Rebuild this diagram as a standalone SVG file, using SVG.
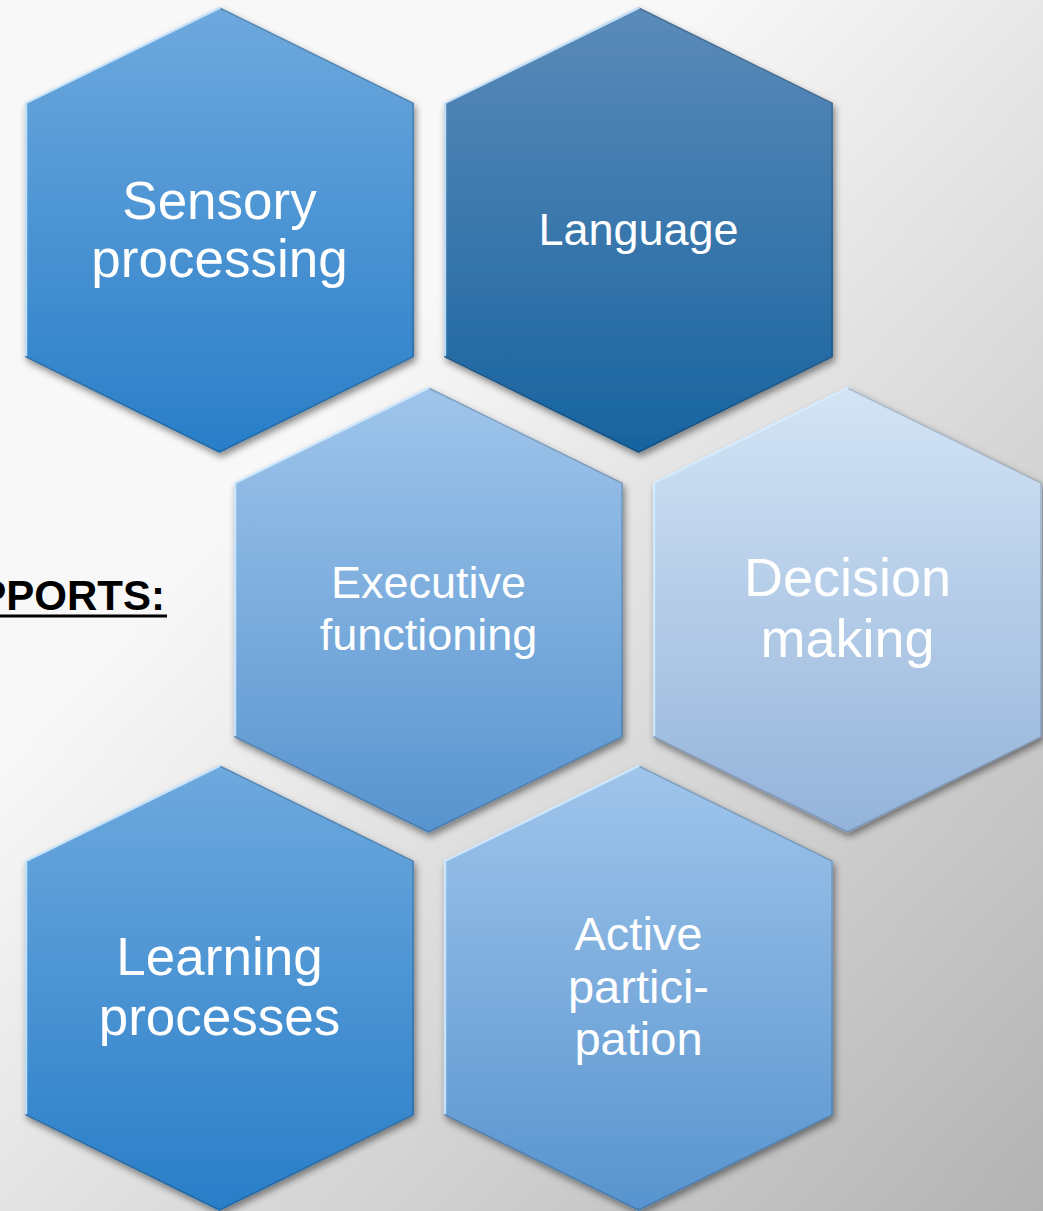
<svg xmlns="http://www.w3.org/2000/svg" xmlns:xlink="http://www.w3.org/1999/xlink" width="1043" height="1211" viewBox="0 0 1043 1211">
  <style>
    .lbl { font-family: "Liberation Sans", "DejaVu Sans", Arial, sans-serif; fill: #ffffff; text-anchor: middle; }
    .hl { fill: none; stroke: #d6ecff; stroke-width: 2.5; stroke-opacity: 0.85; stroke-linecap: round; }
    .dk { fill: none; stroke: #000000; stroke-width: 1.5; stroke-opacity: 0.18; }
    .head { font-family: "Liberation Sans", "DejaVu Sans", Arial, sans-serif; font-weight: bold; fill: #000000; font-size: 42px; text-anchor: end; }
  </style>
  <defs>
    <linearGradient id="bg" x1="0.35" y1="0.3" x2="1" y2="1">
      <stop offset="0" stop-color="#f8f8f8"/>
      <stop offset="1" stop-color="#b3b3b3"/>
    </linearGradient>
    <linearGradient id="gMid" x1="0" y1="0" x2="0" y2="1">
      <stop offset="0" stop-color="#6ea9de"/>
      <stop offset="1" stop-color="#287ec8"/>
    </linearGradient>
    <linearGradient id="gDark" x1="0" y1="0" x2="0" y2="1">
      <stop offset="0" stop-color="#5b8bb9"/>
      <stop offset="1" stop-color="#17639f"/>
    </linearGradient>
    <linearGradient id="gLight" x1="0" y1="0" x2="0" y2="1">
      <stop offset="0" stop-color="#a0c5eb"/>
      <stop offset="1" stop-color="#5794cf"/>
    </linearGradient>
    <linearGradient id="gPale" x1="0" y1="0" x2="0" y2="1">
      <stop offset="0" stop-color="#d4e4f5"/>
      <stop offset="1" stop-color="#93b3da"/>
    </linearGradient>
    <filter id="sh" x="-10%" y="-10%" width="125%" height="125%">
      <feDropShadow dx="2" dy="4" stdDeviation="3.5" flood-color="#000000" flood-opacity="0.45"/>
    </filter>
    <polygon id="hex" points="0,96 194.5,0 389,96 389,350 194.5,446 0,350"/>
    <polyline id="hexHl" points="1,348 1,96 194.5,1"/>
    <polyline id="hexDk" points="194.5,1 388,96 388,350 194.5,445 1,350"/>
  </defs>

  <rect x="0" y="0" width="1043" height="1211" fill="url(#bg)"/>

  <g id="heading">
    <text class="head" x="165" y="610">PPORTS:</text>
    <line x1="0" y1="616" x2="167" y2="616" stroke="#000000" stroke-width="3"/>
  </g>

  <g id="sensory" transform="translate(25,7)">
    <use xlink:href="#hex" fill="url(#gMid)" filter="url(#sh)"/>
    <use xlink:href="#hexDk" class="dk"/>
    <use xlink:href="#hexHl" class="hl"/>
    <text class="lbl" x="194.5" y="212" font-size="53">Sensory</text>
    <text class="lbl" x="194.5" y="270" font-size="53">processing</text>
  </g>

  <g id="language" transform="translate(444,7)">
    <use xlink:href="#hex" fill="url(#gDark)" filter="url(#sh)"/>
    <use xlink:href="#hexDk" class="dk"/>
    <use xlink:href="#hexHl" class="hl"/>
    <text class="lbl" x="194.5" y="238" font-size="45">Language</text>
  </g>

  <g id="executive" transform="translate(234,387)">
    <use xlink:href="#hex" fill="url(#gLight)" filter="url(#sh)"/>
    <use xlink:href="#hexDk" class="dk"/>
    <use xlink:href="#hexHl" class="hl"/>
    <text class="lbl" x="194.5" y="211" font-size="45">Executive</text>
    <text class="lbl" x="194.5" y="263" font-size="45">functioning</text>
  </g>

  <g id="decision" transform="translate(653,387)">
    <use xlink:href="#hex" fill="url(#gPale)" filter="url(#sh)"/>
    <use xlink:href="#hexDk" class="dk"/>
    <use xlink:href="#hexHl" class="hl"/>
    <text class="lbl" x="194.5" y="209" font-size="54">Decision</text>
    <text class="lbl" x="194.5" y="270" font-size="54">making</text>
  </g>

  <g id="learning" transform="translate(25,765)">
    <use xlink:href="#hex" fill="url(#gMid)" filter="url(#sh)"/>
    <use xlink:href="#hexDk" class="dk"/>
    <use xlink:href="#hexHl" class="hl"/>
    <text class="lbl" x="194.5" y="210" font-size="53">Learning</text>
    <text class="lbl" x="194.5" y="270" font-size="53">processes</text>
  </g>

  <g id="active" transform="translate(444,765)">
    <use xlink:href="#hex" fill="url(#gLight)" filter="url(#sh)"/>
    <use xlink:href="#hexDk" class="dk"/>
    <use xlink:href="#hexHl" class="hl"/>
    <text class="lbl" x="194.5" y="185" font-size="47">Active</text>
    <text class="lbl" x="194.5" y="238" font-size="47">partici-</text>
    <text class="lbl" x="194.5" y="290" font-size="47">pation</text>
  </g>
</svg>
